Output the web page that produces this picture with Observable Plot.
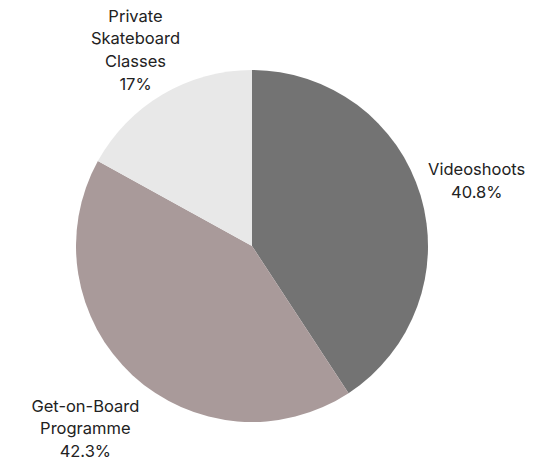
<!DOCTYPE html>
<html><head><meta charset="utf-8">
<script src="https://cdn.jsdelivr.net/npm/d3@7"></script>
<script src="https://cdn.jsdelivr.net/npm/@observablehq/plot@0.6"></script>
<style>body{margin:0;background:#fff}</style>
</head><body><div id="chart"></div>
<script>
const categories = ["Videoshoots", "Get-on-Board\nProgramme", "Private\nSkateboard\nClasses"];
const values = [40.8, 42.3, 17];
const labels = ["40.8%", "42.3%", "17%"];
const colors = ["#737373", "#a99a9a", "#e8e8e8"];

const W = 542, H = 462, cx = 252, cy = 246, R = 176;
const labelR = [234, 246, 230];

const pie = d3.pie().sort(null).value(d => d.value)(categories.map((c, i) => ({name: c, value: values[i], label: labels[i], color: colors[i]})));
const arc = d3.arc().innerRadius(0).outerRadius(R);

const labelData = pie.map((p, i) => {
  const a = (p.startAngle + p.endAngle) / 2;
  return {x: cx + Math.sin(a) * labelR[i], y: cy - Math.cos(a) * labelR[i], text: p.data.name + "\n" + p.data.label};
});

const slices = (index, scales) => {
  const g = d3.create("svg:g").attr("transform", `translate(${scales.x(cx)},${scales.y(cy)})`);
  g.selectAll("path").data(pie).join("path").attr("d", arc).attr("fill", d => d.data.color);
  return g.node();
};

const chart = Plot.plot({
  width: W, height: H, margin: 0,
  x: {domain: [0, W], axis: null},
  y: {domain: [0, H], axis: null, range: [0, H]},
  style: {fontFamily: "Inter, sans-serif", background: "#fff"},
  marks: [
    slices,
    Plot.text(labelData, {x: "x", y: "y", text: "text", fontSize: 16.5, lineHeight: 1.38, fill: "#222", textAnchor: "middle"})
  ]
});
document.getElementById("chart").appendChild(chart);
</script></body></html>
